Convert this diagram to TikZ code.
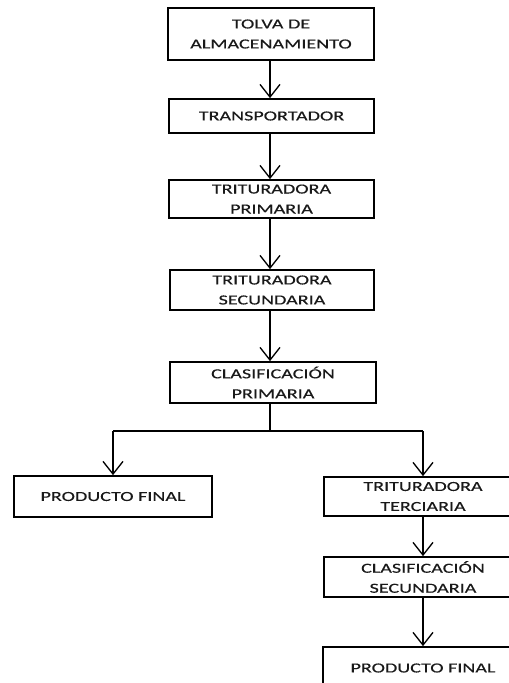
\documentclass[tikz,border=0pt]{standalone}
\usepackage{fontspec}
\setmainfont{Carlito}[FakeStretch=1.45,FakeBold=0.3]
\usetikzlibrary{arrows.meta}
\begin{document}
\begin{tikzpicture}[x=0.75pt,y=-0.75pt,
  box/.style={draw=black,line width=1.3pt,inner sep=0pt,align=center,
    font=\fontsize{10.4}{15}\selectfont,text=black!90},
  conn/.style={line width=1pt,-{Straight Barb[length=9.5pt,width=15pt,line width=1pt]}},
  plain/.style={line width=1pt}]
\useasboundingbox (0,0) rectangle (509,683);
\clip (0,0) rectangle (509,683);
\node[box,minimum width=206*0.75pt,minimum height=52*0.75pt] (tolva) at (271,34) {TOLVA DE\\ALMACENAMIENTO};
\node[box,minimum width=205*0.75pt,minimum height=34*0.75pt] (trans) at (271.5,116) {TRANSPORTADOR};
\node[box,minimum width=205*0.75pt,minimum height=38*0.75pt] (tp) at (271.5,199) {TRITURADORA\\PRIMARIA};
\node[box,minimum width=204*0.75pt,minimum height=40*0.75pt] (ts) at (272,290) {TRITURADORA\\SECUNDARIA};
\node[box,minimum width=206*0.75pt,minimum height=41*0.75pt] (cp) at (273,382.5) {CLASIFICACIÓN\\PRIMARIA};
\node[box,minimum width=198*0.75pt,minimum height=41*0.75pt] (pf1) at (113,496.5) {PRODUCTO FINAL};
\node[box,minimum width=198*0.75pt,minimum height=39*0.75pt] (tt) at (423,496.5) {TRITURADORA\\TERCIARIA};
\node[box,minimum width=198*0.75pt,minimum height=40*0.75pt] (cs) at (423,577) {CLASIFICACIÓN\\SECUNDARIA};
\node[box,minimum width=200*0.75pt,minimum height=42*0.75pt] (pf2) at (423,668) {PRODUCTO FINAL};
\coordinate (split) at (270,431);
\coordinate (sl) at (113,431);
\coordinate (sr) at (423,431);
\draw[conn] (tolva.south -| 270,0) -- (trans.north -| 270,0);
\draw[conn] (trans.south -| 270,0) -- (tp.north -| 270,0);
\draw[conn] (tp.south -| 270,0) -- (ts.north -| 270,0);
\draw[conn] (ts.south -| 270,0) -- (cp.north -| 270,0);
\draw[plain] (cp.south -| split) -- (split);
\draw[plain] (sl) -- (sr);
\draw[conn] (sl) -- (pf1.north);
\draw[conn] (sr) -- (tt.north);
\draw[conn] (tt) -- (cs);
\draw[conn] (cs) -- (pf2);
\end{tikzpicture}
\end{document}
